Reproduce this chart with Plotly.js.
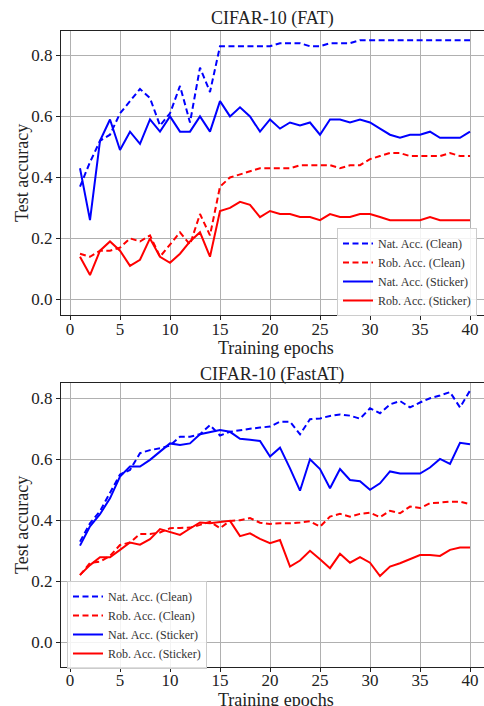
<!DOCTYPE html>
<html>
<head>
<meta charset="utf-8">
<script src="https://cdn.plot.ly/plotly-3.0.1.min.js"></script>
<style>html,body{margin:0;padding:0;background:#fff;}#chart{width:484px;height:706px;}</style>
</head>
<body>
<div id="chart"></div>
<script>
const epochs = Array.from({length: 40}, (_, i) => i + 1);

// CIFAR-10 (FAT)
const fatNatClean = [0.37,0.45,0.52,0.54,0.61,0.65,0.69,0.66,0.57,0.61,0.70,0.58,0.76,0.68,0.83,0.83,0.83,0.83,0.83,0.83,
  0.84,0.84,0.84,0.83,0.83,0.84,0.84,0.84,0.85,0.85,0.85,0.85,0.85,0.85,0.85,0.85,0.85,0.85,0.85,0.85];
const fatRobClean = [0.15,0.14,0.16,0.16,0.17,0.20,0.19,0.21,0.14,0.18,0.22,0.18,0.28,0.21,0.37,0.40,0.41,0.42,0.43,0.43,
  0.43,0.43,0.44,0.44,0.44,0.44,0.43,0.44,0.44,0.46,0.47,0.48,0.48,0.47,0.47,0.47,0.47,0.48,0.47,0.47];
const fatNatSticker = [0.43,0.26,0.52,0.59,0.49,0.55,0.51,0.59,0.55,0.60,0.55,0.55,0.60,0.55,0.65,0.60,0.63,0.60,0.55,0.59,
  0.56,0.58,0.57,0.58,0.54,0.59,0.59,0.58,0.59,0.58,0.56,0.54,0.53,0.54,0.54,0.55,0.53,0.53,0.53,0.55];
const fatRobSticker = [0.14,0.08,0.16,0.19,0.16,0.11,0.13,0.20,0.14,0.12,0.15,0.19,0.22,0.14,0.29,0.30,0.32,0.31,0.27,0.29,
  0.28,0.28,0.27,0.27,0.26,0.28,0.27,0.27,0.28,0.28,0.27,0.26,0.26,0.26,0.26,0.27,0.26,0.26,0.26,0.26];

// CIFAR-10 (FastAT)
const fastNatClean = [0.33,0.39,0.43,0.49,0.55,0.565,0.62,0.63,0.636,0.645,0.674,0.674,0.682,0.712,0.678,0.69,0.696,0.70,0.704,0.707,
  0.723,0.723,0.682,0.731,0.734,0.742,0.747,0.743,0.733,0.767,0.751,0.78,0.791,0.77,0.786,0.80,0.809,0.82,0.77,0.825];
const fastRobClean = [0.22,0.26,0.264,0.283,0.319,0.327,0.355,0.355,0.36,0.374,0.375,0.376,0.385,0.395,0.374,0.398,0.40,0.407,0.392,0.388,
  0.39,0.39,0.393,0.397,0.379,0.412,0.421,0.412,0.421,0.425,0.41,0.431,0.423,0.445,0.44,0.456,0.458,0.461,0.461,0.453];
const fastNatSticker = [0.317,0.38,0.42,0.472,0.543,0.576,0.576,0.598,0.625,0.652,0.647,0.652,0.682,0.688,0.696,0.69,0.667,0.664,0.66,0.609,
  0.638,0.57,0.497,0.60,0.568,0.505,0.568,0.532,0.528,0.50,0.521,0.56,0.553,0.553,0.553,0.573,0.601,0.585,0.654,0.649];
const fastRobSticker = [0.221,0.253,0.279,0.279,0.303,0.327,0.32,0.338,0.371,0.361,0.352,0.373,0.393,0.39,0.393,0.398,0.348,0.357,0.339,0.325,
  0.335,0.248,0.268,0.30,0.272,0.243,0.29,0.261,0.279,0.261,0.217,0.248,0.259,0.273,0.286,0.286,0.283,0.303,0.311,0.311];

const seriesNames = ['Nat. Acc. (Clean)','Rob. Acc. (Clean)','Nat. Acc. (Sticker)','Rob. Acc. (Sticker)'];
const xTicks = [0,5,10,15,20,25,30,35,40];
const yTicks = [0,0.2,0.4,0.6,0.8];

const FONT = '"Liberation Serif", "DejaVu Serif", serif';
const BLUE = '#0000ff', RED = '#ff0000';
const DASH = '6px,3.5px';

function mk(y, name, color, dash, xa, ya, lg) {
  return {x: epochs, y: y, name: name, type: 'scatter', mode: 'lines',
    line: {color: color, width: 2, dash: dash}, xaxis: xa, yaxis: ya, legend: lg};
}

const data = [
  mk(fatNatClean, seriesNames[0], BLUE, DASH, 'x', 'y', 'legend'),
  mk(fatRobClean, seriesNames[1], RED, DASH, 'x', 'y', 'legend'),
  mk(fatNatSticker, seriesNames[2], BLUE, 'solid', 'x', 'y', 'legend'),
  mk(fatRobSticker, seriesNames[3], RED, 'solid', 'x', 'y', 'legend'),
  mk(fastNatClean, seriesNames[0], BLUE, DASH, 'x2', 'y2', 'legend2'),
  mk(fastRobClean, seriesNames[1], RED, DASH, 'x2', 'y2', 'legend2'),
  mk(fastNatSticker, seriesNames[2], BLUE, 'solid', 'x2', 'y2', 'legend2'),
  mk(fastRobSticker, seriesNames[3], RED, 'solid', 'x2', 'y2', 'legend2'),
];

const W = 484, H = 706;
const px = v => v / W, py = v => 1 - v / H;

function xaxis(anchor) {
  return {domain: [px(61), 1], range: [-0.9, 41.4], anchor: anchor,
    tickvals: xTicks, ticktext: xTicks.map(String),
    showgrid: true, gridcolor: '#b0b0b0', gridwidth: 1,
    showline: true, linecolor: '#222', linewidth: 1.2, mirror: true,
    ticks: 'outside', ticklen: 4, tickcolor: '#222', tickwidth: 1,
    ticklabelstandoff: -6,
    tickfont: {family: FONT, size: 17, color: '#222'}, zeroline: false, fixedrange: true};
}
function yaxis(anchor, dom, rng) {
  return {domain: dom, range: rng, anchor: anchor,
    tickvals: yTicks, ticktext: yTicks.map(v => v.toFixed(1)),
    showgrid: true, gridcolor: '#b0b0b0', gridwidth: 1,
    showline: true, linecolor: '#222', linewidth: 1.2, mirror: true,
    ticks: 'outside', ticklen: 4, tickcolor: '#222', tickwidth: 1,
    tickfont: {family: FONT, size: 17, color: '#222'}, zeroline: false, fixedrange: true};
}

function legendCfg(xl, yt) {
  return {x: px(xl), y: py(yt), xanchor: 'left', yanchor: 'top',
    bgcolor: 'rgba(255,255,255,0.85)', bordercolor: '#cccccc', borderwidth: 1,
    font: {family: FONT, size: 12, color: '#333'}, itemwidth: 30, tracegroupgap: 0};
}

function ann(text, x, y, size, angle) {
  return {text: text, x: px(x), y: py(y), xref: 'paper', yref: 'paper', showarrow: false,
    xanchor: 'center', yanchor: 'middle', textangle: angle || 0,
    font: {family: FONT, size: size, color: '#222'}};
}

const layout = {
  width: W, height: H, margin: {l: 0, r: 0, t: 0, b: 0},
  paper_bgcolor: '#fff', plot_bgcolor: '#fff', showlegend: true,
  xaxis: xaxis('y'),
  yaxis: yaxis('x', [py(315), py(30.7)], [-0.051, 0.881]),
  xaxis2: xaxis('y2'),
  yaxis2: yaxis('x2', [py(666.7), py(383)], [-0.08, 0.85]),
  legend: legendCfg(337, 228),
  legend2: legendCfg(67, 581),
  annotations: [
    ann('CIFAR-10 (FAT)', 272, 19, 18),
    ann('CIFAR-10 (FastAT)', 272, 374, 18),
    ann('Training epochs', 276, 348, 18),
    ann('Training epochs', 276, 700, 18),
    ann('Test accuracy', 22, 173, 18, -90),
    ann('Test accuracy', 22, 525, 18, -90),
  ]
};

Plotly.newPlot('chart', data, layout, {staticPlot: true, displayModeBar: false});
</script>
</body>
</html>
